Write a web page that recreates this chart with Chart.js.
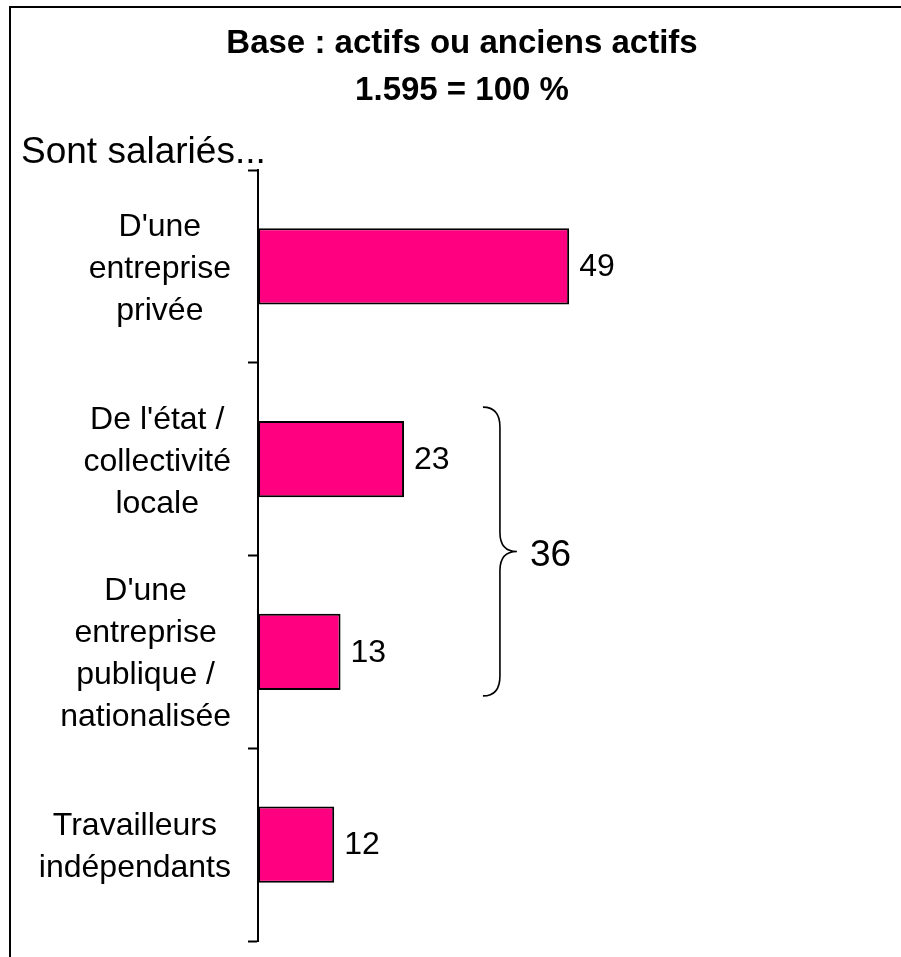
<!DOCTYPE html>
<html lang="fr">
<head>
  <meta charset="UTF-8" />
  <title>Sont salariés...</title>
  <script src="https://cdn.jsdelivr.net/npm/chart.js"></script>
  <style>
    body {
      margin: 0;
      background: #fff;
      font-family: "Liberation Sans", Arial, sans-serif;
    }
    #wrap {
      position: relative;
      width: 901px;
      height: 957px;
      overflow: hidden;
    }
    #frame {
      position: absolute;
      left: 9px;
      top: 6px;
      width: 900px;
      height: 1000px;
      border: 2px solid #000;
      pointer-events: none;
    }
    canvas {
      position: absolute;
      left: 0;
      top: 0;
    }
  </style>
</head>
<body>
  <div id="wrap">
    <canvas id="salariesChart" width="901" height="957"></canvas>
    <div id="frame"></div>
  </div>

  <script>
    const titleLines = ["Base : actifs ou anciens actifs", "1.595 = 100 %"];
    const axisTitle = "Sont salariés...";
    const categories = [
      ["D'une", "entreprise", "privée"],
      ["De l'état /", "collectivité", "locale"],
      ["D'une", "entreprise", "publique /", "nationalisée"],
      ["Travailleurs", "indépendants"]
    ];
    const values = [49, 23, 13, 12];
    // categories grouped by the brace on the right
    const groupIndices = [1, 2];

    const FONT = '"Liberation Sans", Arial, sans-serif';
    const BAR_COLOR = "#FF0080";

    // text, labels and the brace, drawn on top of the chart
    const annotations = {
      id: "annotations",
      afterDraw(chart) {
        const ctx = chart.ctx;
        const yScale = chart.scales.y;
        const xScale = chart.scales.x;
        const meta = chart.getDatasetMeta(0);
        ctx.save();
        ctx.fillStyle = "#000";

        // title
        ctx.font = "bold 33px " + FONT;
        ctx.textAlign = "center";
        ctx.textBaseline = "alphabetic";
        ctx.fillText(titleLines[0], 462, 53);
        ctx.fillText(titleLines[1], 462, 100);

        // "Sont salariés..."
        ctx.font = "37px " + FONT;
        ctx.textAlign = "left";
        ctx.fillText(axisTitle, 21, 163);

        // category labels, each block centred on itself, right edge fixed
        ctx.font = "32px " + FONT;
        ctx.textAlign = "center";
        const rightEdge = yScale.right - 27;
        categories.forEach((lines, i) => {
          const cy = yScale.getPixelForTick(i);
          const widest = Math.max(...lines.map(l => ctx.measureText(l).width));
          const cx = rightEdge - widest / 2;
          lines.forEach((line, j) => {
            const y = cy + (j - (lines.length - 1) / 2) * 42 + 11.5;
            ctx.fillText(line, cx, y);
          });
        });

        // values at the end of the bars
        ctx.textAlign = "left";
        ctx.textBaseline = "middle";
        meta.data.forEach((bar, i) => {
          ctx.fillText(String(values[i]), bar.x + 10, bar.y + 1);
        });

        // brace around the grouped categories
        const first = meta.data[groupIndices[0]];
        const last = meta.data[groupIndices[groupIndices.length - 1]];
        const top = first.y - 52;
        const bottom = last.y + 44;
        const mid = (top + bottom) / 2;
        const x = xScale.getPixelForValue(38.1);
        const w = 17;
        ctx.lineWidth = 1.6;
        ctx.strokeStyle = "#000";
        ctx.beginPath();
        ctx.moveTo(x - w, top);
        ctx.quadraticCurveTo(x, top, x, top + 20);
        ctx.lineTo(x, mid - 19);
        ctx.quadraticCurveTo(x, mid, x + w, mid);
        ctx.quadraticCurveTo(x, mid, x, mid + 19);
        ctx.lineTo(x, bottom - 20);
        ctx.quadraticCurveTo(x, bottom, x - w, bottom);
        ctx.stroke();

        const total = groupIndices.reduce((s, i) => s + values[i], 0);
        ctx.font = "37px " + FONT;
        ctx.textBaseline = "alphabetic";
        ctx.fillText(String(total), x + 30, mid + 14);
        ctx.restore();
      }
    };

    const ctx = document.getElementById("salariesChart").getContext("2d");
    new Chart(ctx, {
      type: "bar",
      data: {
        labels: categories,
        datasets: [{
          data: values,
          backgroundColor: BAR_COLOR,
          borderColor: "#000",
          borderWidth: 2,
          borderSkipped: false,
          categoryPercentage: 1,
          barPercentage: 0.395
        }]
      },
      options: {
        indexAxis: "y",
        responsive: false,
        animation: false,
        layout: {
          padding: { top: 170, bottom: 16, right: 8, left: 0 }
        },
        plugins: {
          legend: { display: false },
          title: { display: false },
          tooltip: { enabled: false }
        },
        scales: {
          x: {
            display: false,
            min: 0,
            max: 100
          },
          y: {
            afterFit(scale) {
              scale.width = 258;
            },
            grid: {
              offset: true,
              drawOnChartArea: false,
              drawTicks: true,
              tickLength: 10,
              tickColor: "#000",
              tickWidth: 2
            },
            border: {
              display: true,
              color: "#000",
              width: 2
            },
            ticks: { display: false }
          }
        }
      },
      plugins: [annotations]
    });
  </script>
</body>
</html>
